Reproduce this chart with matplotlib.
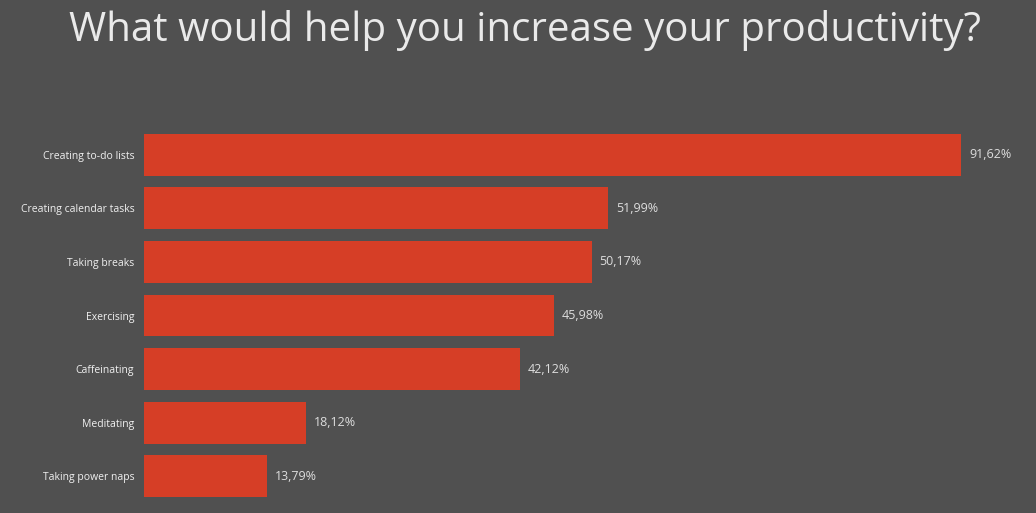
import matplotlib
matplotlib.use("Agg")
import matplotlib.pyplot as plt

categories = ["Creating to-do lists", "Creating calendar tasks", "Taking breaks",
              "Exercising", "Caffeinating", "Meditating", "Taking power naps"]
values = [91.62, 51.99, 50.17, 45.98, 42.12, 18.12, 13.79]

BG = "#505050"
BAR = "#D63E26"
TXT = "#DDDDDD"

fig = plt.figure(figsize=(10.36, 5.13), dpi=100, facecolor=BG)
ax = fig.add_axes([144 / 1036, 1 - 503 / 513, 892 / 1036, 375 / 513])
ax.set_facecolor(BG)

ypos = list(range(len(categories)))
ax.barh(ypos, values, height=0.78, color=BAR)
ax.set_xlim(0, 100)
ax.set_ylim(len(categories) - 0.5, -0.5)

# value labels with comma decimal separator
for y, v in zip(ypos, values):
    ax.text(v + 0.9, y, f"{v:.2f}%".replace(".", ","), va="center", ha="left",
            fontsize=9, color=TXT, family="Open Sans")

ax.set_yticks(ypos)
ax.set_yticklabels(categories, fontsize=7.5, color="#F0F0F0", family="Open Sans")
ax.tick_params(axis="y", length=0, pad=7)
ax.set_xticks([])
for s in ax.spines.values():
    s.set_visible(False)

fig.text(525 / 1036, 1 - 31 / 513, "What would help you increase your productivity?",
         ha="center", va="center", fontsize=29, color="#EAEAEA", family="Open Sans")

fig.savefig("out.png", dpi=100, facecolor=BG)
